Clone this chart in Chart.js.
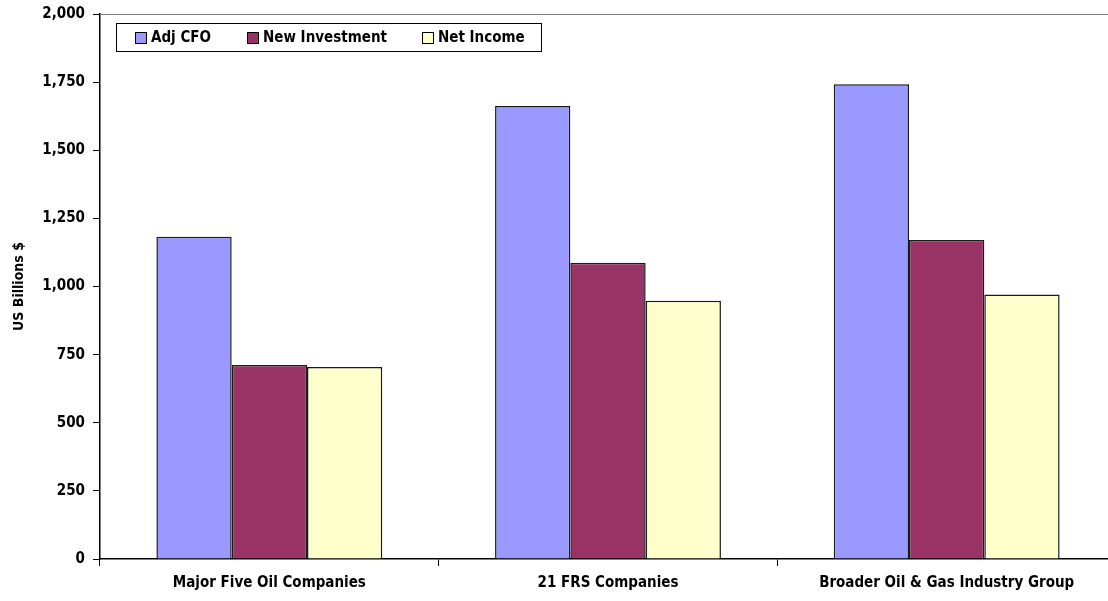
<!DOCTYPE html>
<html><head><meta charset="utf-8">
<script src="https://cdn.jsdelivr.net/npm/chart.js@4/dist/chart.umd.min.js"></script>
<style>
html,body{margin:0;padding:0;background:#fff;overflow:hidden;width:1108px;height:601px}
#wrap{position:relative;width:1120px;height:601px}
</style></head><body>
<div id="wrap"><canvas id="c"></canvas></div>
<script>
const categories = ["Major Five Oil Companies", "21 FRS Companies", "Broader Oil & Gas Industry Group"];
const adjCFO = [1183, 1662, 1742];
const newInvestment = [712, 1087, 1171];
const netIncome = [705, 948, 971];
const seriesNames = ["Adj CFO", "New Investment", "Net Income"];
const seriesColors = ["#9999FF", "#993366", "#FFFFCC"];
const yTicks = [0, 250, 500, 750, 1000, 1250, 1500, 1750, 2000];

const FONT = "'DejaVu Sans Condensed', 'Liberation Sans Narrow', sans-serif";

const frame = {
  id: 'frame',
  afterDraw(chart) {
    const {ctx, chartArea: a} = chart;
    ctx.save();
    ctx.strokeStyle = '#808080';
    ctx.lineWidth = 1;
    ctx.beginPath();
    ctx.moveTo(a.left, a.top + 0.5);
    ctx.lineTo(a.right, a.top + 0.5);
    ctx.stroke();
    // legend box
    const bx = 116.5, by = 23.5, bw = 425, bh = 28;
    ctx.fillStyle = '#fff';
    ctx.fillRect(bx, by, bw, bh);
    ctx.strokeStyle = '#000';
    ctx.lineWidth = 1;
    ctx.strokeRect(bx, by, bw, bh);
    const sx = [135, 247, 422];
    ctx.font = 'bold 15px ' + FONT;
    ctx.textBaseline = 'middle';
    chart.data.datasets.forEach((ds, i) => {
      ctx.fillStyle = ds.backgroundColor;
      ctx.fillRect(sx[i] + 0.5, 32.5, 11, 11);
      ctx.strokeStyle = '#000';
      ctx.strokeRect(sx[i] + 0.5, 32.5, 11, 11);
      ctx.fillStyle = '#000';
      ctx.fillText(ds.label, sx[i] + 16, 38.5);
    });
    ctx.restore();
  }
};

new Chart(document.getElementById('c'), {
  type: 'bar',
  data: {
    labels: categories,
    datasets: [
      {label: seriesNames[0], data: adjCFO, backgroundColor: seriesColors[0]},
      {label: seriesNames[1], data: newInvestment, backgroundColor: seriesColors[1]},
      {label: seriesNames[2], data: netIncome, backgroundColor: seriesColors[2]}
    ].map(d => Object.assign(d, {borderColor: '#1a1a1a', borderWidth: 1.5, categoryPercentage: 0.667, barPercentage: 1.0}))
  },
  options: {
    responsive: true,
    maintainAspectRatio: false,
    animation: false,
    devicePixelRatio: 1,
    layout: {padding: {left: 11, top: 14, right: 4, bottom: 0}},
    plugins: {legend: {display: false}, tooltip: {enabled: false}},
    scales: {
      x: {
        offset: true,
        grid: {display: true, drawOnChartArea: false, drawTicks: true, tickLength: 7, color: '#000', offset: true},
        border: {display: true, color: '#000', width: 1.5},
        ticks: {color: '#000', font: {family: FONT, size: 15, weight: 'bold'}, padding: 8, maxRotation: 0, autoSkip: false},
        afterFit(s) { s.height = 42; s.paddingLeft = 0; s.paddingRight = 0; }
      },
      y: {
        min: 0, max: 2000,
        afterBuildTicks(s) { s.ticks = yTicks.map(v => ({value: v})); },
        grid: {display: true, drawOnChartArea: false, drawTicks: true, tickLength: 7, color: '#000'},
        border: {display: true, color: '#000', width: 1.5},
        ticks: {color: '#000', font: {family: FONT, size: 15, weight: 'bold'}, padding: 8,
          callback: v => v.toLocaleString('en-US')},
        title: {display: true, text: 'US Billions $', color: '#000', font: {family: FONT, size: 14, weight: 'bold'}, padding: 0},
        afterFit(s) { s.width = 89; s.paddingTop = 0; s.paddingBottom = 0; }
      }
    }
  },
  plugins: [frame]
});
</script>
</body></html>
